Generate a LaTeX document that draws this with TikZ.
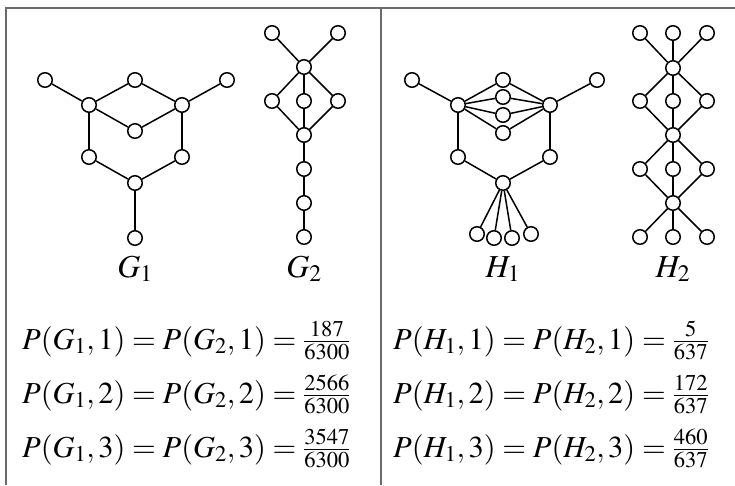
\documentclass[tikz,border=0pt]{standalone}
\usepackage{mathptmx}
\begin{document}
\begin{tikzpicture}[x=1pt,y=-1pt,
    vtx/.style={circle,draw,fill=white,line width=1.5pt,minimum size=14.5pt,inner sep=0pt},
    edge/.style={line width=1.5pt},
    frameline/.style={line width=1.6pt,draw=black!58},
    glabel/.style={anchor=base,font=\fontsize{32}{38}\selectfont,inner sep=0pt},
    eqn/.style={anchor=base west,font=\fontsize{30.5}{36}\selectfont,inner sep=0pt}
  ]
  \useasboundingbox (0,0) rectangle (735,485);

  % frame
  \coordinate (tl) at (6,8);
  \coordinate (tr) at (735,8);
  \coordinate (bl) at (6,485);
  \coordinate (tm) at (381,8);
  \coordinate (bm) at (381,485);
  \draw[frameline] (bl) -- (tl) -- (tr);
  \draw[frameline] (tm) -- (bm);

  % G_1
  \foreach \n/\x/\y in {lp/45/80,tp/135/80,rp/227/80,lh/89/105,rh/182/105,
                        c/135/131,ll/89/157,lr/182/157,bh/135/183,bp/135/238} {
    \node[vtx] (g1\n) at (\x,\y) {};
  }
  \foreach \a/\b in {lp/lh,rp/rh,tp/lh,tp/rh,c/lh,c/rh,lh/ll,rh/lr,ll/bh,lr/bh,bh/bp} {
    \draw[edge] (g1\a) -- (g1\b);
  }

  % G_2
  \foreach \n/\x/\y in {t1/272/33,t2/338/33,h1/304/67,m1/272/101,m2/304/101,m3/338/101,
                        h2/304/135,c1/304/169,c2/304/203,c3/304/237} {
    \node[vtx] (g2\n) at (\x,\y) {};
  }
  \foreach \a/\b in {t1/h1,t2/h1,h1/m1,h1/m2,h1/m3,m1/h2,m2/h2,m3/h2,h2/c1,c1/c2,c2/c3} {
    \draw[edge] (g2\a) -- (g2\b);
  }

  % H_1
  \foreach \n/\x/\y in {lp/412/80,rp/597/80,lh/458/105,rh/550/105,
                        k1/503/80,k2/503/97,k3/503/115,k4/503/133,
                        ll/458/157,lr/550/157,bh/503/183,
                        p1/477/234,p2/494/238,p3/512/238,p4/531/234} {
    \node[vtx] (h1\n) at (\x,\y) {};
  }
  \foreach \a/\b in {lp/lh,rp/rh,lh/ll,rh/lr,ll/bh,lr/bh,bh/p1,bh/p2,bh/p3,bh/p4} {
    \draw[edge] (h1\a) -- (h1\b);
  }
  \foreach \k in {1,...,4} {
    \draw[edge] (h1lh) -- (h1k\k) -- (h1rh);
  }

  % H_2
  \foreach \n/\x/\y in {t1/640/33,t2/673/33,t3/707/33,h1/673/68,
                        a1/640/101,a2/673/101,a3/707/101,h2/673/135,
                        b1/640/169,b2/673/169,b3/707/169,h3/673/203,
                        c1/640/237,c2/673/237,c3/707/237} {
    \node[vtx] (h2\n) at (\x,\y) {};
  }
  \foreach \i in {1,2,3} {
    \draw[edge] (h2t\i) -- (h2h1) -- (h2a\i) -- (h2h2) -- (h2b\i) -- (h2h3) -- (h2c\i);
  }

  % labels
  \node[glabel] (lg1) at (135,277) {$G_1$};
  \node[glabel] (lg2) at (304,277) {$G_2$};
  \node[glabel] (lh1) at (503,277) {$H_1$};
  \node[glabel] (lh2) at (673,277) {$H_2$};

  % chromatic values
  \node[eqn] (eg1) at (22,349) {$P(G_1,1)=P(G_2,1)=\frac{187}{6300}$};
  \node[eqn] (eg2) at (22,403) {$P(G_1,2)=P(G_2,2)=\frac{2566}{6300}$};
  \node[eqn] (eg3) at (22,457) {$P(G_1,3)=P(G_2,3)=\frac{3547}{6300}$};
  \node[eqn] (eh1) at (393,349) {$P(H_1,1)=P(H_2,1)=\frac{5}{637}$};
  \node[eqn] (eh2) at (393,403) {$P(H_1,2)=P(H_2,2)=\frac{172}{637}$};
  \node[eqn] (eh3) at (393,457) {$P(H_1,3)=P(H_2,3)=\frac{460}{637}$};
\end{tikzpicture}
\end{document}
